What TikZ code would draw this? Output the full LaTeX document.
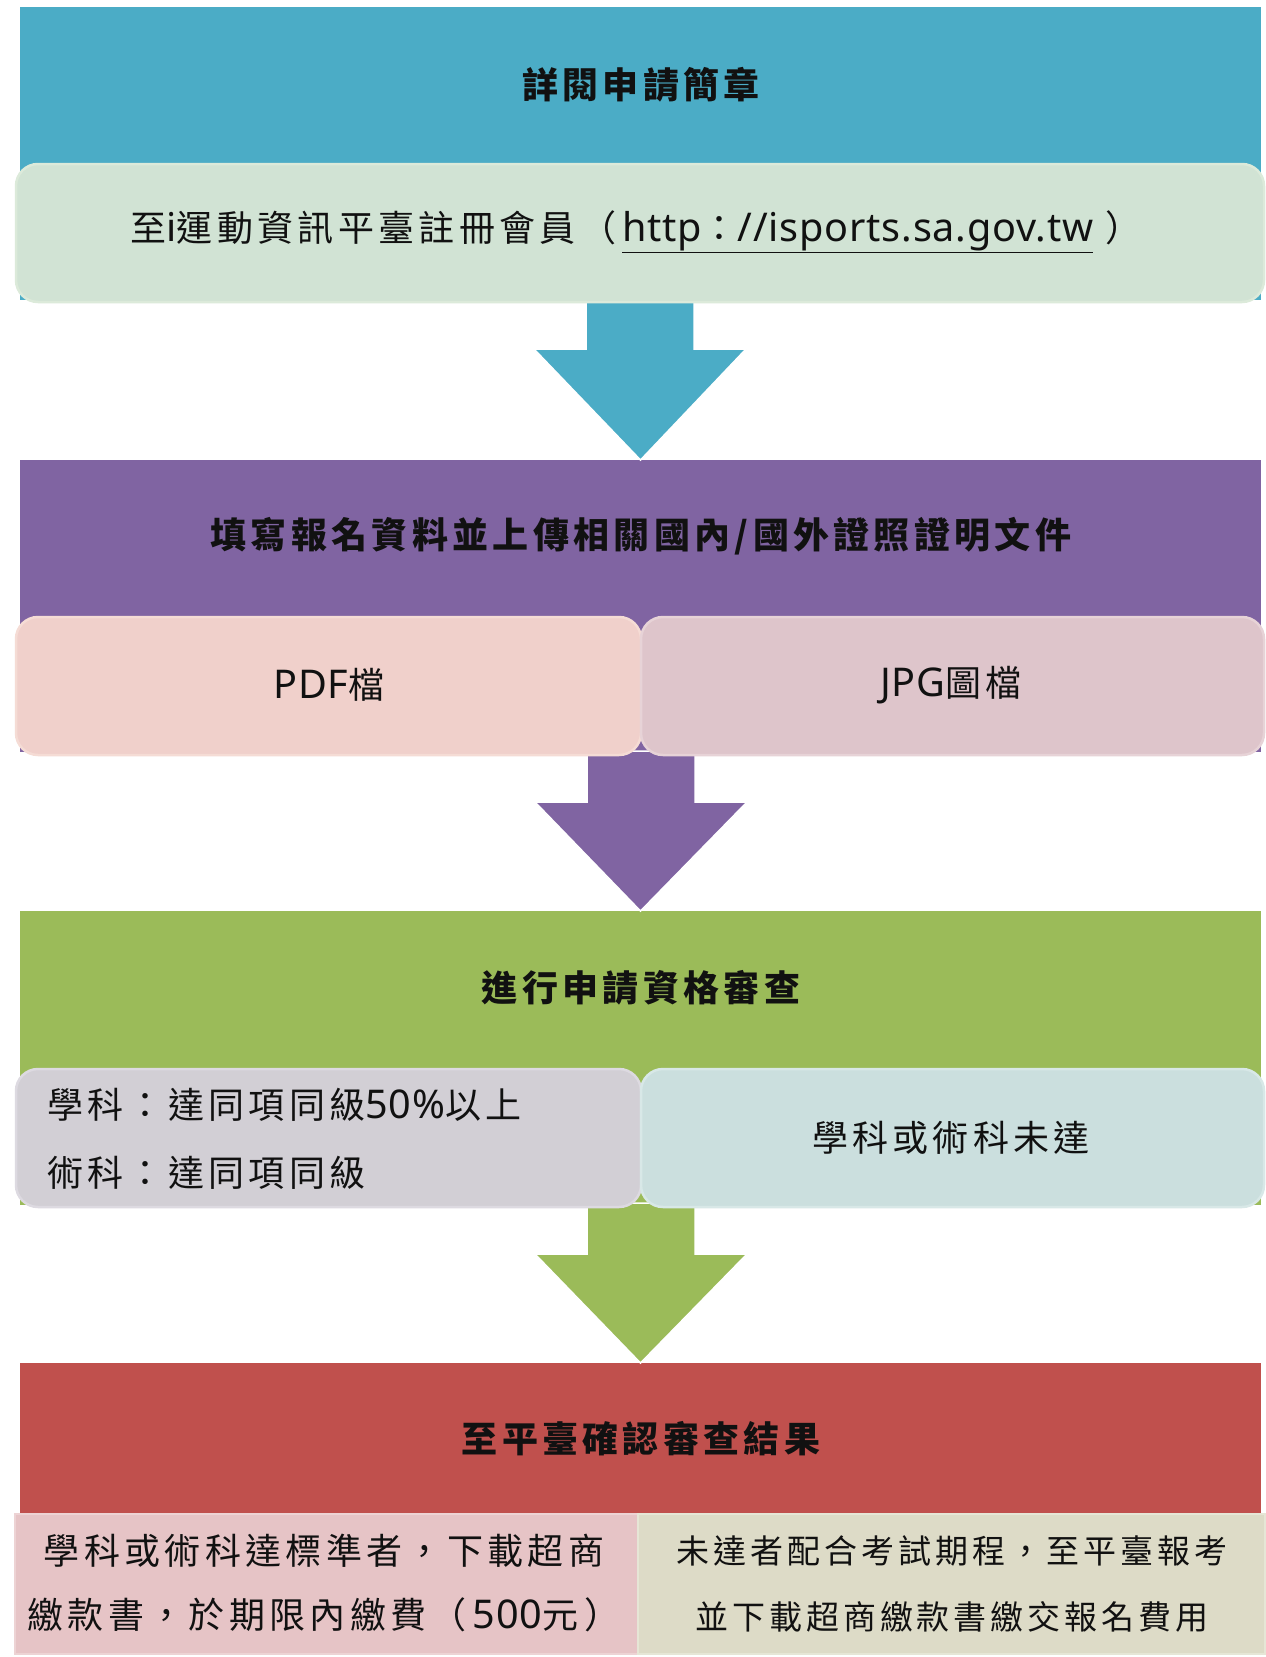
\documentclass[tikz,border=0pt]{standalone}
\usepackage{fontspec}
\setmainfont{Noto Sans CJK TC}[LetterSpace=12]
\newfontfamily\latinfont{Noto Sans}[Scale=1.1,LetterSpace=2]
\newcommand\lat[1]{{\latinfont #1}}
\usetikzlibrary{calc}
\pgfdeclarelayer{bg}\pgfdeclarelayer{mid}
\pgfsetlayers{bg,mid,main}
\definecolor{cblue}{HTML}{4BACC6}
\definecolor{cpurple}{HTML}{8064A2}
\definecolor{cgreen}{HTML}{9BBB59}
\definecolor{cred}{HTML}{C0504D}
\definecolor{fA}{HTML}{D1E3D4}\definecolor{dA}{HTML}{DCEADA}
\definecolor{fPdf}{HTML}{F0D0CB}\definecolor{dPdf}{HTML}{F5DCD5}
\definecolor{fJpg}{HTML}{DEC5CB}\definecolor{dJpg}{HTML}{E7D3D7}
\definecolor{fGray}{HTML}{D2CFD5}\definecolor{dGray}{HTML}{DDDAE1}
\definecolor{fCyan}{HTML}{CBDFDE}\definecolor{dCyan}{HTML}{D8E8E7}
\definecolor{fPink}{HTML}{E6C4C6}\definecolor{dPink}{HTML}{EDD3D4}
\definecolor{fBeige}{HTML}{DDDBC7}\definecolor{dBeige}{HTML}{E6E6D6}
\definecolor{ink}{HTML}{111111}
\newcommand\flowarrow[3]{%
  \path[fill=#1, draw=white, line width=1.5pt, line join=miter]
    ($(#2)+(-54,-4)$) -- ($(#2)+(-54,47)$) -- ($(#2)+(-106,47)$) -- (#3.north)
    -- ($(#2)+(106,47)$) -- ($(#2)+(54,47)$) -- ($(#2)+(54,-4)$) -- cycle;}
\tikzset{
  sec/.style={rectangle, inner sep=0pt, outer sep=0pt, minimum width=1241pt, anchor=north west},
  rbox/.style={rectangle, rounded corners=22pt, line width=2.5pt, inner sep=0pt, outer sep=0pt, anchor=north west, minimum height=138pt},
  sbox/.style={rectangle, line width=1.5pt, inner sep=0pt, outer sep=0pt, anchor=north west, minimum height=140pt},
  title/.style={font=\fontsize{36}{40}\selectfont\bfseries, text=ink, inner sep=0pt},
  lbl/.style={font=\fontsize{36}{40}\selectfont, text=ink, inner sep=0pt},
}
\begin{document}
\begin{tikzpicture}[x=1pt,y=-1pt]
\useasboundingbox (0,0) rectangle (1266,1657);
\begin{pgfonlayer}{bg}
  \fill[white] (0,0) rectangle (1266,1657);
  \node[sec, fill=cblue, minimum height=293pt] (s1) at (20,7) {};
  \node[sec, fill=cpurple, minimum height=292pt] (s2) at (20,460) {};
  \node[sec, fill=cgreen, minimum height=294pt] (s3) at (20,911) {};
  \node[sec, fill=cred, minimum height=152pt] (s4) at (20,1363) {};
\end{pgfonlayer}

% section 1
\node[title] (t1) at (641,85) {詳閱申請簡章};
\node[rbox, fill=fA, draw=dA, minimum width=1248pt] (b1) at (16,164) {};
\node[lbl] (u1) at (636,232) {至\lat{i}運動資訊平臺註冊會員（\,\underline{\lat{http}：\lat{//isports.sa.gov.tw}}\,\,）};

% section 2
\node[title] (t2) at (641,536) {填寫報名資料並上傳相關國內/國外證照證明文件};
\node[rbox, fill=fPdf, draw=dPdf, minimum width=625pt] (pdf) at (16,617) {};
\node[rbox, fill=fJpg, draw=dJpg, minimum width=623pt] (jpg) at (641,617) {};
\node[lbl] (pdft) at (329,685) {\lat{PDF}檔};
\node[lbl] (jpgt) at (951,685) {\lat{JPG}圖檔};
\coordinate (m2) at (641,755);

% section 3
\node[title] (t3) at (641,988) {進行申請資格審查};
\node[rbox, fill=fGray, draw=dGray, minimum width=625pt] (pass) at (16,1069) {};
\node[rbox, fill=fCyan, draw=dCyan, minimum width=623pt] (fail) at (641,1069) {};
\node[lbl, anchor=west, align=left, font=\fontsize{36}{68}\selectfont] (passt) at (47,1139) {學科：達同項同級\lat{50\%}以上\\術科：達同項同級};
\node[lbl] (failt) at (951,1138) {學科或術科未達};
\coordinate (m3) at (641,1207);

% section 4
\node[title] (t4) at (641,1439) {至平臺確認審查結果};
\node[sbox, fill=fPink, draw=dPink, minimum width=623pt] (ok) at (15,1514) {};
\node[sbox, fill=fBeige, draw=dBeige, minimum width=627pt] (no) at (638,1514) {};
\node[lbl, align=center, font=\fontsize{36}{64}\selectfont] (okt) at (324,1583) {學科或術科達標準者，下載超商\\繳款書，於期限內繳費（\,\lat{500}元\,）};
\node[lbl, align=center, font=\fontsize{33}{66}\selectfont] (not) at (952,1584) {未達者配合考試期程，至平臺報考\\並下載超商繳款書繳交報名費用};

\begin{pgfonlayer}{mid}
  \flowarrow{cblue}{b1.south}{s2}
  \flowarrow{cpurple}{m2}{s3}
  \flowarrow{cgreen}{m3}{s4}
\end{pgfonlayer}
\end{tikzpicture}
\end{document}
